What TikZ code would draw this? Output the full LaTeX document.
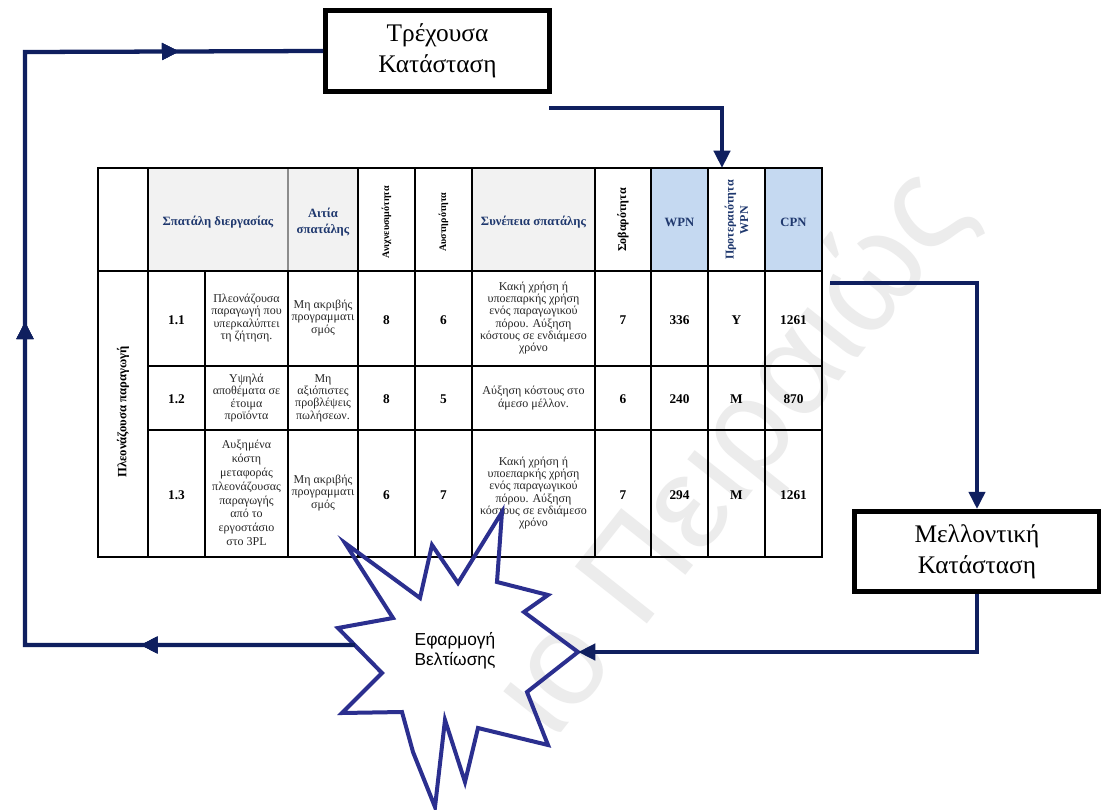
\documentclass[tikz,border=0pt]{standalone}
\usepackage{fontspec}
\setmainfont{Liberation Serif}
\newfontfamily\grsans{Liberation Sans}
\usetikzlibrary{arrows.meta,decorations.markings,calc}
\definecolor{navyline}{RGB}{15,31,95}
\definecolor{burst}{RGB}{43,47,143}
\definecolor{headtext}{RGB}{31,56,110}
\definecolor{headgray}{RGB}{242,242,242}
\definecolor{headblue}{RGB}{197,217,241}
\definecolor{wmark}{RGB}{236,236,236}

\begin{document}
\begin{tikzpicture}[x=0.75pt,y=-0.75pt,
  flow/.style={draw=navyline,line width=3.2pt},
  midtip/.style={postaction={decorate},decoration={markings,
     mark=at position #1 with {\arrow[navyline]{Triangle[length=13pt,width=12pt]}}}},
  statebox/.style={draw=black,line width=3.6pt,fill=white,align=center,
     font=\fontsize{19}{23}\selectfont,inner sep=0pt},
  gridline/.style={draw=black,line width=1.6pt},
  softline/.style={draw=black!45,line width=1.2pt},
  cellt/.style={align=center,inner sep=0pt,text=black!85,font=\fontsize{9}{9.2}\selectfont},
  numt/.style={inner sep=0pt,font=\bfseries\fontsize{10}{11}\selectfont},
  headt/.style={align=center,inner sep=0pt,text=headtext,font=\bfseries\fontsize{9.5}{11.5}\selectfont},
  vhead/.style={align=center,inner sep=0pt,rotate=90,font=\bfseries\fontsize{7.5}{8.5}\selectfont}
]
\useasboundingbox (0,0) rectangle (1101,810);
\fill[white] (0,0) rectangle (1101,810);

% faint watermark lettering
\begin{scope}
  \clip (0,0) rectangle (1101,810);
  \node[text=wmark,rotate=51.6,inner sep=0pt,font=\grsans\fontsize{100}{100}\selectfont]
    (wm) at (735,455) {ιο Πειραιώς};
\end{scope}

% ---------- table: header fills ----------
\fill[headgray] (148,168) rectangle (358,271);
\fill[headgray] (472,168) rectangle (595,271);
\fill[headblue] (651,168) rectangle (708,271);
\fill[headblue] (765,168) rectangle (822,271);

% ---------- table: rules ----------
\draw[softline] (288,168) -- (288,271);
\draw[gridline] (288,271) -- (288,557);
\draw[gridline] (205,271) -- (205,557);
\foreach \cx in {148,358,415,472,595,651,708,765}
  \draw[gridline] (\cx,168) -- (\cx,557);
\draw[gridline] (98,271) -- (822,271);
\draw[gridline] (148,366) -- (822,366);
\draw[gridline] (148,430) -- (822,430);
\draw[black,line width=2pt] (98,168) rectangle (822,557);

% ---------- table: header texts ----------
\node[headt] (hproc) at (218,222) {Σπατάλη διεργασίας};
\node[headt] (hcause) at (323,222) {Αιτία\\σπατάλης};
\node[vhead] (hdet) at (386.5,222) {Ανιχνευσιμότητα};
\node[vhead] (hocc) at (443.5,222) {Αυστηρότητα};
\node[headt] (hcons) at (533.5,222) {Συνέπεια σπατάλης};
\node[vhead,font=\bfseries\fontsize{9}{10}\selectfont] (hsev) at (623,220) {Σοβαρότητα};
\node[headt] (hwpn) at (679.5,222) {WPN};
\node[vhead,text=headtext,font=\bfseries\fontsize{9}{11}\selectfont] (hprio) at (736.5,220) {Προτεραιότητα\\WPN};
\node[headt] (hcpn) at (793.5,222) {CPN};

% row group label
\node[vhead,font=\bfseries\fontsize{9.5}{11}\selectfont] (grp) at (123,412) {Πλεονάζουσα παραγωγή};

% ---------- row 1.1 ----------
\node[numt] (n11) at (176.5,320) {1.1};
\node[cellt] (w11) at (246.5,318) {Πλεονάζουσα\\παραγωγή που\\υπερκαλύπτει\\τη ζήτηση.};
\node[cellt] (c11) at (323,318) {Μη ακριβής\\προγραμματι\\σμός};
\node[numt] (d11) at (386.5,320) {8};
\node[numt] (o11) at (443.5,320) {6};
\node[cellt] (e11) at (533.5,318) {Κακή χρήση ή\\υποεπαρκής χρήση\\ενός παραγωγικού\\πόρου. Αύξηση\\κόστους σε ενδιάμεσο\\χρόνο};
\node[numt] (s11) at (623,320) {7};
\node[numt] (p11) at (679.5,320) {336};
\node[numt] (r11) at (736.5,320) {Υ};
\node[numt] (q11) at (793.5,320) {1261};

% ---------- row 1.2 ----------
\node[numt] (n12) at (176.5,399) {1.2};
\node[cellt] (w12) at (246.5,398) {Υψηλά\\αποθέματα σε\\έτοιμα\\προϊόντα};
\node[cellt] (c12) at (323,398) {Μη\\αξιόπιστες\\προβλέψεις\\πωλήσεων.};
\node[numt] (d12) at (386.5,399) {8};
\node[numt] (o12) at (443.5,399) {5};
\node[cellt] (e12) at (533.5,398) {Αύξηση κόστους στο\\άμεσο μέλλον.};
\node[numt] (s12) at (623,399) {6};
\node[numt] (p12) at (679.5,399) {240};
\node[numt] (r12) at (736.5,399) {Μ};
\node[numt] (q12) at (793.5,399) {870};

% ---------- row 1.3 ----------
\node[numt] (n13) at (176.5,495) {1.3};
\node[cellt,font=\fontsize{9}{10.4}\selectfont] (w13) at (246.5,493) {Αυξημένα\\κόστη\\μεταφοράς\\πλεονάζουσας\\παραγωγής\\από το\\εργοστάσιο\\στο 3PL};
\node[cellt] (c13) at (323,493) {Μη ακριβής\\προγραμματι\\σμός};
\node[numt] (d13) at (386.5,495) {6};
\node[numt] (o13) at (443.5,495) {7};
\node[cellt] (e13) at (533.5,493) {Κακή χρήση ή\\υποεπαρκής χρήση\\ενός παραγωγικού\\πόρου. Αύξηση\\κόστους σε ενδιάμεσο\\χρόνο};
\node[numt] (s13) at (623,495) {7};
\node[numt] (p13) at (679.5,495) {294};
\node[numt] (r13) at (736.5,495) {Μ};
\node[numt] (q13) at (793.5,495) {1261};

% ---------- state boxes ----------
\node[statebox,minimum width=168pt,minimum height=61pt] (cur) at (437.5,51) {Τρέχουσα\\Κατάσταση};
\node[statebox,minimum width=184pt,minimum height=60pt] (fut) at (977,551.5) {Μελλοντική\\Κατάσταση};

% ---------- improvement burst ----------
\draw[burst,line width=3pt,line join=miter]
  (345,543) -- (420,598) -- (432,545) -- (458,583) -- (502,512) -- (497,582)
  -- (548,595) -- (524,612) -- (578,652) -- (527,692) -- (548,745) -- (478,728)
  -- (465,782) -- (445,720) -- (435,807) -- (413,752) -- (402,712) -- (342,713)
  -- (382,673) -- (338,628) -- (393,618) -- cycle;
\node[align=center,inner sep=0pt,font=\grsans\fontsize{13}{15}\selectfont] (impl) at (455,651) {Εφαρμογή\\Βελτίωσης};

% connector anchor points
\coordinate (burstW) at (355,645);
\coordinate (burstE) at (578,652);
\coordinate (curOut) at (549,108);
\coordinate (tblTop) at (722,168);
\coordinate (tblOut) at (830,283);

% ---------- flow connectors ----------
\draw[flow,midtip=161pt,midtip=490pt,midtip=808pt]
  (burstW) -- (25,645) -- (25,52) -- (cur.west);
\draw[flow,-{Triangle[length=13pt,width=12pt]}]
  (curOut) -- (tblTop |- curOut) -- (tblTop);
\draw[flow,-{Triangle[length=13pt,width=12pt]}]
  (tblOut) -- (fut.north |- tblOut) -- (fut.north);
\draw[flow,-{Triangle[length=13pt,width=12pt]}]
  (fut.south) -- (fut.south |- burstE) -- (burstE);
\end{tikzpicture}
\end{document}
